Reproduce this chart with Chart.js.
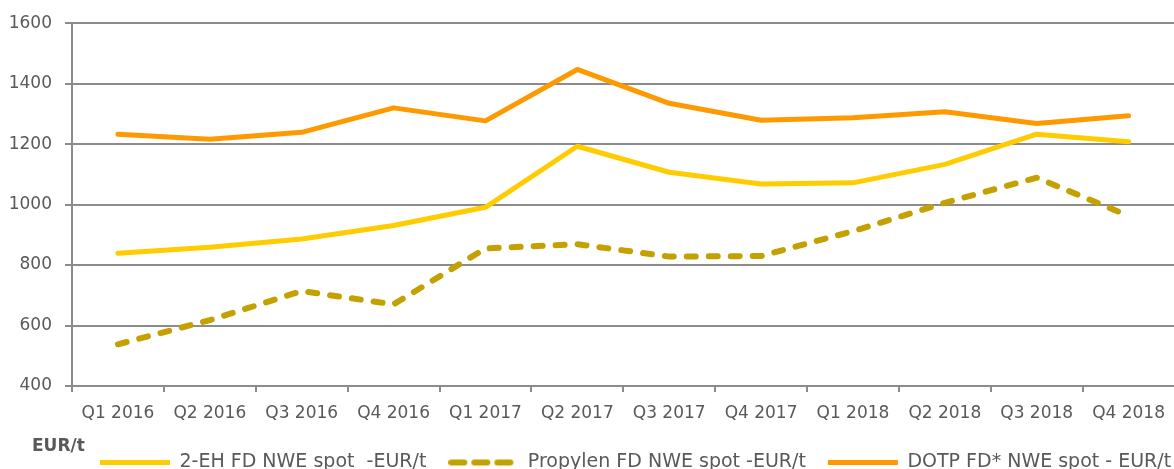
<!DOCTYPE html>
<html>
<head>
<meta charset="utf-8">
<script src="https://cdn.jsdelivr.net/npm/chart.js@4.4.0/dist/chart.umd.min.js"></script>
<style>
  html, body { margin: 0; padding: 0; background: #fff; overflow: hidden; }
  #wrap { position: relative; width: 1176px; height: 469px; }
  #einheit { position: absolute; left: 32px; top: 435px; font: bold 17px "DejaVu Sans"; color: #595959; }
</style>
</head>
<body>
<div id="wrap">
  <canvas id="preise" width="1176" height="469"></canvas>
  <div id="einheit">EUR/t</div>
</div>
<script>
// Quartale auf der x-Achse
const quartale = ['Q1 2016', 'Q2 2016', 'Q3 2016', 'Q4 2016', 'Q1 2017', 'Q2 2017',
                  'Q3 2017', 'Q4 2017', 'Q1 2018', 'Q2 2018', 'Q3 2018', 'Q4 2018'];

// Preise in EUR/t
const preis2EH     = [839, 859, 886, 931, 991, 1193, 1107, 1068, 1072, 1133, 1233, 1208];
const preisPropyl  = [538, 618, 714, 670, 855, 869, 828, 830, 912, 1006, 1089, 963];
const preisDOTP    = [1233, 1216, 1239, 1320, 1277, 1447, 1335, 1279, 1287, 1307, 1268, 1294];

// y-Achse
const yMin = 400;
const yMax = 1600;
const ySchritt = 200;

const grau = '#8c8c8c';
const textGrau = '#595959';
const schrift = '"DejaVu Sans", sans-serif';
const olive = '#c4a000';

// gestricheltes Legendensymbol (chart.js strichelt pointStyle 'line' nicht)
function strichSymbol(farbe) {
  const c = document.createElement('canvas');
  c.width = 70;
  c.height = 8;
  const g = c.getContext('2d');
  g.strokeStyle = farbe;
  g.lineWidth = 6;
  g.lineCap = 'round';
  g.setLineDash([13, 10]);
  g.beginPath();
  g.moveTo(3, 4);
  g.lineTo(65, 4);
  g.stroke();
  return c;
}

// Legende rechts neben "EUR/t" setzen
const legendeVerschieben = {
  id: 'legendeVerschieben',
  afterLayout(chart) {
    const lg = chart.legend;
    const breite = lg.right - lg.left;
    lg.left = 100 - lg.options.labels.padding;
    lg.right = lg.left + breite;
  }
};

const ctx = document.getElementById('preise').getContext('2d');
new Chart(ctx, {
  type: 'line',
  data: {
    labels: quartale,
    datasets: [
      {
        label: '2-EH FD NWE spot  -EUR/t',
        data: preis2EH,
        borderColor: '#ffcc00',
        borderWidth: 5,
        borderCapStyle: 'round',
        borderJoinStyle: 'round',
        pointStyle: 'line'
      },
      {
        label: 'Propylen FD NWE spot -EUR/t',
        data: preisPropyl,
        borderColor: olive,
        borderWidth: 6,
        borderDash: [9, 13],
        borderCapStyle: 'round',
        borderJoinStyle: 'round',
        pointStyle: strichSymbol(olive)
      },
      {
        label: 'DOTP FD* NWE spot - EUR/t',
        data: preisDOTP,
        borderColor: '#ff9900',
        borderWidth: 5,
        borderCapStyle: 'round',
        borderJoinStyle: 'round',
        pointStyle: 'line'
      }
    ]
  },
  options: {
    responsive: false,
    animation: false,
    devicePixelRatio: 1,
    elements: { point: { radius: 0 }, line: { tension: 0 } },
    layout: { padding: { top: 23, left: 0, right: 0, bottom: 0 } },
    plugins: {
      tooltip: { enabled: false },
      legend: {
        position: 'bottom',
        align: 'start',
        maxHeight: 38,
        labels: {
          usePointStyle: true,
          pointStyleWidth: 70,
          boxWidth: 70,
          padding: 22,
          color: textGrau,
          font: { family: schrift, size: 19 }
        }
      }
    },
    scales: {
      x: {
        offset: true,
        grid: { drawOnChartArea: false, offset: true, tickLength: 6, color: grau, lineWidth: 2 },
        border: { display: false },
        ticks: { color: textGrau, padding: 11, maxRotation: 0, font: { family: schrift, size: 17 } },
        afterFit(scale) { scale.height = 45; }
      },
      y: {
        min: yMin,
        max: yMax,
        grid: { color: grau, lineWidth: 2, tickLength: 7 },
        border: { display: true, color: grau, width: 2 },
        ticks: {
          stepSize: ySchritt,
          color: textGrau,
          padding: 13,
          font: { family: schrift, size: 17 },
          callback: (v) => String(v)
        },
        afterFit(scale) { scale.width = 72; }
      }
    }
  },
  plugins: [legendeVerschieben]
});
</script>
</body>
</html>
